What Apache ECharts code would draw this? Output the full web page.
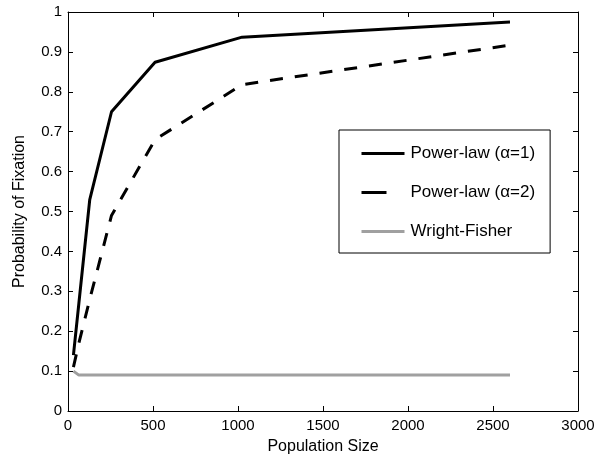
<!DOCTYPE html>
<html>
<head>
<meta charset="utf-8">
<script src="https://cdn.jsdelivr.net/npm/echarts@6/dist/echarts.min.js"></script>
<style>
html,body{margin:0;padding:0;background:#fff;}
#chart{width:611px;height:460px;}
</style>
</head>
<body>
<div id="chart"></div>
<script>
const populationSizes = [32, 64, 128, 256, 512, 1024, 2600];
const powerLaw1 = [0.14, 0.27, 0.53, 0.75, 0.874, 0.937, 0.975];
const powerLaw2 = [0.11, 0.17, 0.28, 0.49, 0.68, 0.818, 0.917];
const wrightFisher = [0.10, 0.09, 0.09, 0.09, 0.09, 0.09, 0.09];
const seriesNames = ['Power-law (\u03b1=1)', 'Power-law (\u03b1=2)', 'Wright-Fisher'];
const xTicks = [0, 500, 1000, 1500, 2000, 2500, 3000];
const yTicks = [0, 0.1, 0.2, 0.3, 0.4, 0.5, 0.6, 0.7, 0.8, 0.9, 1];

const pairs = ys => populationSizes.map((x, i) => [x, ys[i]]);
const font = '"Liberation Sans", Arial, Helvetica, sans-serif';

const chart = echarts.init(document.getElementById('chart'), null, {renderer: 'canvas'});
const axisCommon = {
  axisLine: {show: true, onZero: false, lineStyle: {color: '#000', width: 1}},
  axisTick: {show: true, inside: true, length: 5, lineStyle: {color: '#000'}},
  splitLine: {show: false}
};
chart.setOption({
  animation: false,
  backgroundColor: '#fff',
  grid: {left: 68, right: 33, top: 12, bottom: 46, containLabel: false},
  legend: {
    orient: 'vertical',
    left: 339, top: 130,
    padding: [15, 15, 13, 21],
    itemWidth: 43, itemHeight: 14, itemGap: 22,
    borderColor: '#000', borderWidth: 1,
    backgroundColor: '#fff',
    itemStyle: {opacity: 0, color: 'rgba(0,0,0,0)', borderWidth: 0},
    lineStyle: {width: 3},
    textStyle: {fontFamily: font, fontSize: 17, color: '#000', padding: [0, 0, 0, 1]},
    data: [
      {name: seriesNames[0]},
      {name: seriesNames[1], lineStyle: {width: 3, type: [25, 23]}},
      {name: seriesNames[2]}
    ]
  },
  xAxis: [
    Object.assign({}, axisCommon, {
      type: 'value', min: xTicks[0], max: xTicks[xTicks.length - 1], interval: 500,
      position: 'bottom',
      name: 'Population Size', nameLocation: 'middle', nameGap: 28,
      nameTextStyle: {fontFamily: font, fontSize: 16, color: '#000'},
      axisLabel: {fontFamily: font, fontSize: 15, color: '#000', margin: 7,
        formatter: v => String(v)}
    }),
    Object.assign({}, axisCommon, {
      type: 'value', min: xTicks[0], max: xTicks[xTicks.length - 1], interval: 500,
      position: 'top', axisLabel: {show: false}
    })
  ],
  yAxis: [
    Object.assign({}, axisCommon, {
      type: 'value', min: yTicks[0], max: yTicks[yTicks.length - 1], interval: 0.1,
      position: 'left',
      name: 'Probability of Fixation', nameLocation: 'middle', nameGap: 40,
      nameTextStyle: {fontFamily: font, fontSize: 16, color: '#000'},
      axisLabel: {fontFamily: font, fontSize: 15, color: '#000', margin: 6,
        formatter: v => String(Math.round(v * 10) / 10)}
    }),
    Object.assign({}, axisCommon, {
      type: 'value', min: yTicks[0], max: yTicks[yTicks.length - 1], interval: 0.1,
      position: 'right', axisLabel: {show: false}
    })
  ],
  series: [
    {name: seriesNames[0], type: 'line', data: pairs(powerLaw1), symbol: 'none',
     itemStyle: {color: '#000'}, lineStyle: {color: '#000', width: 3}},
    {name: seriesNames[1], type: 'line', data: pairs(powerLaw2), symbol: 'none',
     itemStyle: {color: '#000'}, lineStyle: {color: '#000', width: 3, type: [13, 12]}},
    {name: seriesNames[2], type: 'line', data: pairs(wrightFisher), symbol: 'none',
     itemStyle: {color: '#a0a0a0'}, lineStyle: {color: '#a0a0a0', width: 3}}
  ]
});
</script>
</body>
</html>
